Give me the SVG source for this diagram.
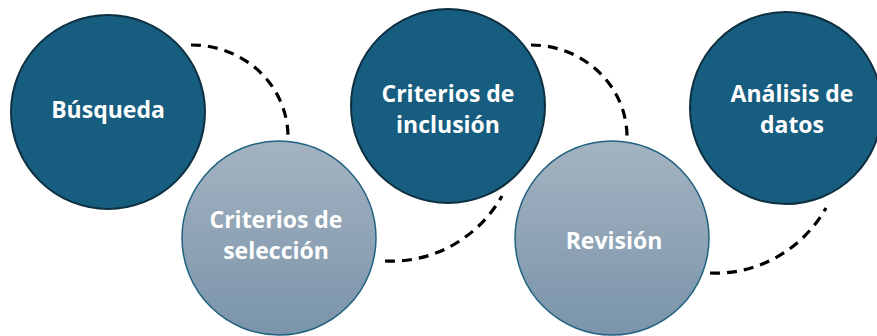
<svg xmlns="http://www.w3.org/2000/svg" width="877" height="336" viewBox="0 0 877 336">
  <defs>
    <linearGradient id="lg" x1="0" y1="0" x2="0" y2="1">
      <stop offset="0" stop-color="#a4b3c1"/>
      <stop offset="1" stop-color="#7a94aa"/>
    </linearGradient>
    <style>
      .dark { fill: #175d7f; stroke: #0e2f3f; stroke-width: 2; }
      .light { fill: url(#lg); stroke: #20627f; stroke-width: 1.5; }
      .lbl { fill: #ffffff; font-family: "Open Sans", "Liberation Sans", sans-serif; font-weight: 700; font-size: 23px; text-anchor: middle; }
      .conn { fill: none; stroke: #000000; stroke-width: 3.2; stroke-dasharray: 10 7; }
    </style>
  </defs>
  <rect width="877" height="336" fill="#ffffff"/>
  <g id="connectors">
    <path class="conn" d="M191,45 A96,92 0 0 1 288,136"/>
    <path class="conn" d="M385,261 A128,132 0 0 0 502,196"/>
    <path class="conn" d="M531,45 A96,92 0 0 1 627,136"/>
    <path class="conn" d="M710,273 A128,132 0 0 0 826,208"/>
  </g>
  <g id="busqueda">
    <circle class="dark" cx="108" cy="112" r="97"/>
    <text class="lbl" x="108" y="118">Búsqueda</text>
  </g>
  <g id="criterios-seleccion">
    <circle class="light" cx="279" cy="238" r="97"/>
    <text class="lbl" x="276" y="228">Criterios de</text>
    <text class="lbl" x="276" y="259">selección</text>
  </g>
  <g id="criterios-inclusion">
    <circle class="dark" cx="448" cy="106" r="97"/>
    <text class="lbl" x="448" y="102">Criterios de</text>
    <text class="lbl" x="448" y="133">inclusión</text>
  </g>
  <g id="revision">
    <circle class="light" cx="612" cy="238" r="97"/>
    <text class="lbl" x="614" y="249">Revisión</text>
  </g>
  <g id="analisis">
    <circle class="dark" cx="786" cy="108" r="96"/>
    <text class="lbl" x="792" y="102">Análisis de</text>
    <text class="lbl" x="792" y="133">datos</text>
  </g>
</svg>
